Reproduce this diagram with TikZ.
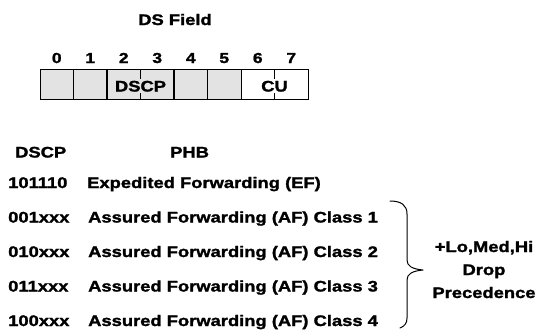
\documentclass[tikz,border=0pt]{standalone}
\usepackage{fontspec}
\usetikzlibrary{calc}
\newfontfamily\df{Liberation Sans}[FakeStretch=1.2, BoldFeatures={FakeBold=1.6}]
\begin{document}
\begin{tikzpicture}[x=1pt,y=-1pt,
  every node/.style={inner sep=0pt, font=\df\bfseries\fontsize{15.3}{18}\selectfont},
  fieldbox/.style={draw, line width=1.1pt, anchor=north west, minimum height=30pt},
  divider/.style={line width=1.1pt},
  col/.style={anchor=base west},
  bracestyle/.style={line width=1pt, line join=round, line cap=round}]
\useasboundingbox (0,0) rectangle (539,333);
% title
\node[anchor=base] (title) at (175,25) {DS Field};
% bit numbers
\foreach \i in {0,...,7}
  \node[anchor=base, font=\df\bfseries\fontsize{14.5}{17}\selectfont] (bit\i) at ({40+33.5*(\i+0.5)},63) {\i};
% field boxes
\node[fieldbox, fill=gray!22, minimum width=201pt] (dscpf) at (40,69) {};
\node[fieldbox, fill=white, minimum width=67pt] (cuf) at (241,69) {};
\foreach \k in {1,...,5}
  \draw[divider] ($(dscpf.north west)+(33.5*\k,0)$) -- ($(dscpf.south west)+(33.5*\k,0)$);
\draw[divider] ($(cuf.north west)+(33.5,0)$) -- ($(cuf.south west)+(33.5,0)$);
\node[fill=gray!22, inner xsep=1pt, inner ysep=1.5pt, anchor=base] (dscpl) at (140.5,91.5) {DSCP};
\node[fill=white, inner xsep=1pt, inner ysep=1.5pt, anchor=base] (cul) at (274.5,91.5) {CU};
% table heading
\node[col] (hd) at (15,157.5) {DSCP};
\node[col] (hp) at (170,157.5) {PHB};
% rows
\node[col] (c1) at (8,188) {101110};
\node[col] (p1) at (87,188) {Expedited Forwarding (EF)};
\node[col] (c2) at (8,222.5) {001xxx};
\node[col] (p2) at (88,222.5) {Assured Forwarding (AF) Class 1};
\node[col] (c3) at (8,257) {010xxx};
\node[col] (p3) at (88,257) {Assured Forwarding (AF) Class 2};
\node[col] (c4) at (8,291.5) {011xxx};
\node[col] (p4) at (88,291.5) {Assured Forwarding (AF) Class 3};
\node[col] (c5) at (8,326) {100xxx};
\node[col] (p5) at (88,326) {Assured Forwarding (AF) Class 4};
% brace
\coordinate (bt) at (390,201);
\coordinate (tip) at (423,270);
\coordinate (bb) at (400,328);
\draw[bracestyle] (bt) .. controls (401,201) and (407,205) .. (407,214)
  -- (407,260) .. controls (407,266) and (412,269) .. (tip)
  .. controls (412,271) and (407,274) .. (407,280)
  -- (407,318) .. controls (407,323) and (405,326) .. (bb);
% side note
\node[anchor=base, align=center, font=\df\bfseries\fontsize{15.3}{23}\selectfont] (note) at (484,298) {+Lo,Med,Hi\\Drop\\Precedence};
\end{tikzpicture}
\end{document}
